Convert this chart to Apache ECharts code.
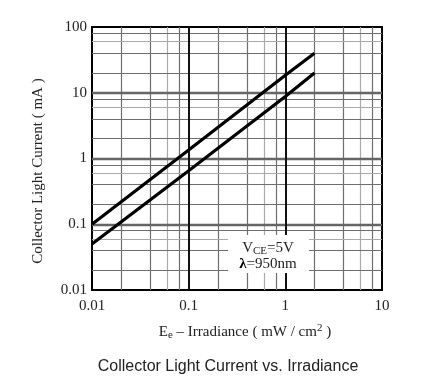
<!DOCTYPE html>
<html><head><meta charset="utf-8">
<script src="https://cdn.jsdelivr.net/npm/echarts@6/dist/echarts.min.js"></script>
<style>html,body{margin:0;padding:0;background:#fff}#c{width:432px;height:385px}</style>
</head><body><div id="c"></div>
<script>
// Data
const upperX = [0.01, 0.1, 1, 2];
const upperY = [0.1, 1.35, 18.5, 40];
const lowerX = [0.01, 0.1, 1, 2];
const lowerY = [0.05, 0.65, 8.8, 20];
const xTickLabels = ['0.01', '0.1', '1', '10'];
const yTickLabels = ['0.01', '0.1', '1', '10', '100'];
const xDecades = [0.01, 0.1, 1];
const yDecades = [0.01, 0.1, 1, 10];
const minorMult = [2, 4, 6, 8];

const serif = '"Liberation Serif","Times New Roman",serif';
const chart = echarts.init(document.getElementById('c'), null, {renderer: 'canvas'});

const gridLines = [];
xDecades.forEach(d => minorMult.forEach(m => gridLines.push({xAxis: d * m, lineStyle: {color: m === 6 ? '#aaaaaa' : '#6e6e6e', width: 1.2, type: 'solid'}})));
yDecades.forEach(d => minorMult.forEach(m => gridLines.push({yAxis: d * m, lineStyle: {color: m === 6 ? '#aaaaaa' : '#6e6e6e', width: 1.2, type: 'solid'}})));
[0.1, 1, 10].forEach(v => gridLines.push({yAxis: v, lineStyle: {color: '#666', width: 2.4, type: 'solid'}}));
[0.1, 1].forEach(v => gridLines.push({xAxis: v, lineStyle: {color: '#111', width: 2, type: 'solid'}}));

function pair(xs, ys) { return xs.map((x, i) => [x, ys[i]]); }
function lbl(arr) { return v => arr[Math.round(Math.log10(v)) - Math.round(Math.log10(parseFloat(arr[0])))]; }

chart.setOption({
  animation: false,
  backgroundColor: '#fff',
  title: {
    text: 'Collector Light Current vs. Irradiance',
    left: 223, top: 354, textAlign: 'center',
    textStyle: {fontFamily: '"Liberation Sans",Arial,sans-serif', fontSize: 16, fontWeight: 'normal', color: '#222'}
  },
  grid: {left: 92, top: 27, width: 290, height: 263, show: true, borderColor: '#000', borderWidth: 2, backgroundColor: 'transparent', z: 5},
  xAxis: {
    type: 'log', logBase: 10, min: 0.01, max: 10,
    axisLine: {show: false}, axisTick: {show: false}, splitLine: {show: false},
    axisLabel: {formatter: lbl(xTickLabels), fontFamily: serif, fontSize: 15, color: '#222', margin: 9}
  },
  yAxis: {
    type: 'log', logBase: 10, min: 0.01, max: 100,
    axisLine: {show: false}, axisTick: {show: false}, splitLine: {show: false},
    axisLabel: {formatter: lbl(yTickLabels), fontFamily: serif, fontSize: 15, color: '#222', margin: 5}
  },
  series: [
    {type: 'line', data: [], silent: true, z: 1,
     markLine: {silent: true, symbol: 'none', label: {show: false}, animation: false, data: gridLines}},
    {type: 'line', data: pair(upperX, upperY), showSymbol: false, lineStyle: {color: '#000', width: 3.2}, z: 10},
    {type: 'line', data: pair(lowerX, lowerY), showSymbol: false, lineStyle: {color: '#000', width: 3.2}, z: 10}
  ],
  graphic: [
    {type: 'rect', z: 50, shape: {x: 228, y: 235, width: 81, height: 38}, style: {fill: '#fff'}},
    {type: 'text', z: 51, x: 268, y: 248, style: {
      text: 'V{s|CE}=5V', align: 'center', verticalAlign: 'middle',
      font: '15px ' + serif, fill: '#222',
      rich: {s: {fontFamily: serif, fontSize: 11, fill: '#222', padding: [7, 0, 0, 0]}}}},
    {type: 'text', z: 51, x: 268, y: 264, style: {
      text: '{b|λ}=950nm', align: 'center', verticalAlign: 'middle',
      font: '15px ' + serif, fill: '#222',
      rich: {b: {fontFamily: serif, fontSize: 15, fontWeight: 'bold', fill: '#000'}}}},
    {type: 'text', z: 51, x: 245, y: 332, style: {
      text: 'E{s|e} – Irradiance ( mW / cm{p|2} )', align: 'center', verticalAlign: 'middle',
      font: '15px ' + serif, fill: '#222',
      rich: {s: {fontFamily: serif, fontSize: 11, fill: '#222', padding: [7, 0, 0, 0]},
             p: {fontFamily: serif, fontSize: 11, fill: '#222', padding: [0, 0, 7, 0]}}}},
    {type: 'text', z: 51, x: 38, y: 171, rotation: Math.PI / 2, style: {
      text: 'Collector Light Current ( mA )', align: 'center', verticalAlign: 'middle',
      font: '15px ' + serif, fill: '#222'}}
  ]
});
</script></body></html>
